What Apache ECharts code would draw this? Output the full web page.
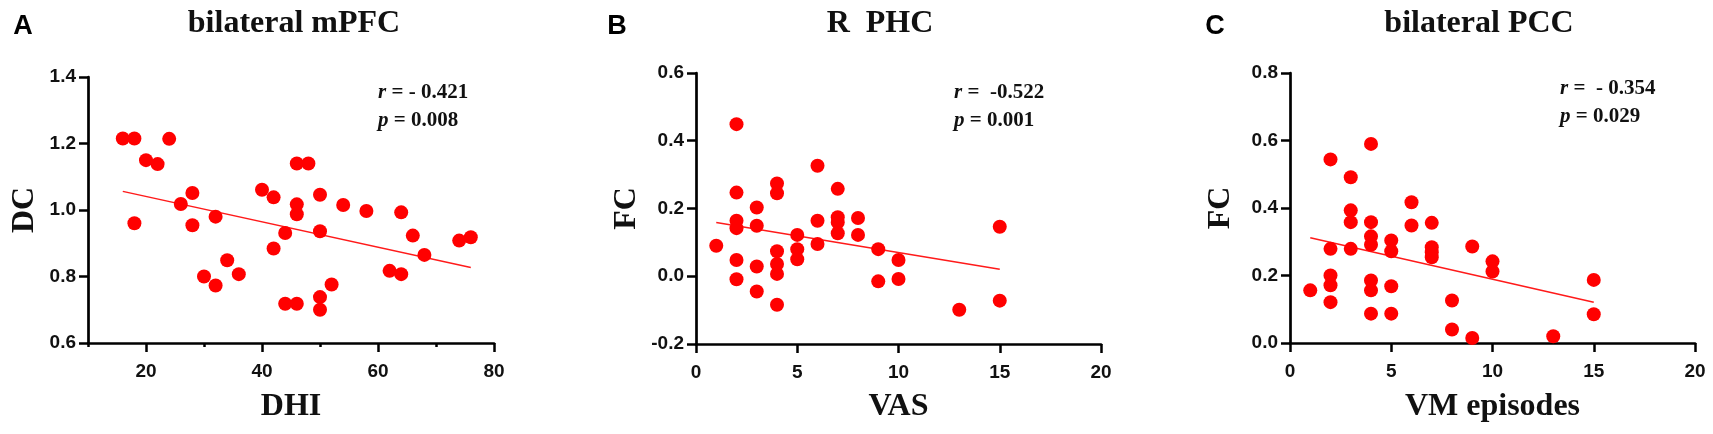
<!DOCTYPE html>
<html>
<head>
<meta charset="utf-8">
<script src="https://cdn.jsdelivr.net/npm/echarts@6/dist/echarts.min.js"></script>
<style>
  html, body { margin: 0; padding: 0; background: #fff; }
  #chart { width: 1713px; height: 434px; }
</style>
</head>
<body>
<div id="chart"></div>
<script>
// 面板 A：DHI vs DC
const dhiA = [16, 18, 20, 22, 24, 18, 26, 28, 28, 32, 30, 32, 34, 36, 40, 42, 42, 44, 44, 46,
  46, 48, 46, 46, 50, 50, 50, 50, 52, 54, 58, 64, 62, 64, 66, 68, 74, 76]
const dcA = [1.215, 1.215, 1.15, 1.138, 1.214, 0.96, 1.018, 1.051, 0.954, 0.98, 0.80, 0.773, 0.849, 0.807, 1.061, 1.038, 0.884, 0.931, 0.718, 0.718,
  1.14, 1.14, 1.017, 0.987, 1.046, 0.936, 0.738, 0.70, 0.776, 1.015, 0.997, 0.993, 0.817, 0.807, 0.923, 0.865, 0.908, 0.918]
const trendA = [[16, 1.056], [76, 0.827]]

// 面板 B：VAS vs FC
const vasB = [1, 2, 2, 2, 2, 2, 2, 3, 3, 3, 3, 4, 4, 4, 4, 4, 4, 5, 5, 5,
  6, 6, 6, 7, 7, 7, 7, 8, 8, 9, 9, 10, 10, 13, 15, 15]
const fcB = [0.09, 0.449, 0.247, 0.164, 0.142, 0.048, -0.009, 0.203, 0.149, 0.029, -0.045, 0.274, 0.245, 0.074, 0.036, 0.007, -0.084, 0.122, 0.08, 0.05,
  0.326, 0.164, 0.095, 0.258, 0.174, 0.159, 0.127, 0.172, 0.122, 0.08, -0.015, 0.048, -0.008, -0.099, 0.146, -0.072]
const trendB = [[1, 0.159], [15, 0.021]]

// 面板 C：VM episodes vs FC
const vmC = [1, 2, 2, 2, 2, 2, 3, 3, 3, 3, 4, 4, 4, 4, 4, 4, 4, 5, 5, 5,
  5, 6, 6, 7, 7, 7, 7, 8, 8, 9, 9, 10, 10, 13, 15, 15]
const fcC = [0.156, 0.544, 0.279, 0.2, 0.171, 0.121, 0.491, 0.393, 0.358, 0.279, 0.59, 0.358, 0.316, 0.291, 0.185, 0.156, 0.087, 0.304, 0.272, 0.168,
  0.087, 0.417, 0.348, 0.356, 0.284, 0.269, 0.254, 0.126, 0.04, 0.286, 0.015, 0.242, 0.212, 0.02, 0.187, 0.085]
const trendC = [[1, 0.312], [15, 0.121]]

// 轴范围 [min, max, interval]
const xRangeA = [10, 80, 10]
const xMajorA = [20, 40, 60, 80]
const yRangeA = [0.6, 1.4, 0.2]
const xRangeB = [0, 20, 5]
const yRangeB = [-0.2, 0.6, 0.2]
const xRangeC = [0, 20, 5]
const yRangeC = [0, 0.8, 0.2]

const panelTitles = ['bilateral mPFC', 'R  PHC', 'bilateral PCC']
const panelLetters = ['A', 'B', 'C']
const xNames = ['DHI', 'VAS', 'VM episodes']
const yNames = ['DC', 'FC', 'FC']
const rTexts = ['\u2011 0.421', ' \u20110.522', ' \u2011 0.354']
const pTexts = ['0.008', '0.001', '0.029']

function zip(xs, ys) {
    return xs.map((x, i) => [x, ys[i]])
}

const chart = echarts.init(document.getElementById('chart'))

const grids = [
    { left: 88, top: 77, width: 406, height: 266 },
    { left: 696, top: 73, width: 405, height: 271 },
    { left: 1290, top: 73, width: 405, height: 270 }
]
const xRanges = [xRangeA, xRangeB, xRangeC]
const yRanges = [yRangeA, yRangeB, yRangeC]
const scatterData = [zip(dhiA, dcA), zip(vasB, fcB), zip(vmC, fcC)]
const trends = [trendA, trendB, trendC]

// 每根轴都用新对象
function line() {
    return { show: true, onZero: false, lineStyle: { color: '#000', width: 2.7 } }
}
function tick(len) {
    return { show: true, length: len, lineStyle: { color: '#000', width: 2.5 } }
}
function label(margin, fmt) {
    return { margin: margin, formatter: fmt, color: '#111', fontFamily: 'Liberation Sans', fontWeight: 'bold', fontSize: 19 }
}

const xAxes = xRanges.map((t, i) => ({
    gridIndex: i,
    type: 'value',
    min: t[0], max: t[1], interval: t[2],
    axisLine: line(),
    axisTick: tick(i === 0 ? 4 : 9),
    splitLine: { show: false },
    axisLabel: label(19, v => (i === 0 && v % 20 !== 0) ? '' : String(v))
}))
// 面板 A 的长刻度（20、40、60、80）
xAxes.push({
    gridIndex: 0,
    type: 'value',
    position: 'bottom',
    min: xRangeA[0], max: xRangeA[1], interval: xRangeA[2],
    axisLine: { show: false, onZero: false },
    axisTick: { show: true, length: 9, customValues: xMajorA, lineStyle: { color: '#000', width: 2.5 } },
    axisLabel: { show: false },
    splitLine: { show: false }
})

const yAxes = yRanges.map((t, i) => ({
    gridIndex: i,
    type: 'value',
    min: t[0], max: t[1], interval: t[2],
    axisLine: line(),
    axisTick: tick(9),
    splitLine: { show: false },
    axisLabel: label(12, v => v.toFixed(1))
}))

const series = []
scatterData.forEach((d, i) => {
    series.push({
        type: 'scatter',
        xAxisIndex: i, yAxisIndex: i,
        data: d,
        symbolSize: 14,
        itemStyle: { color: '#ff0000', opacity: 1 },
        z: 3
    })
    series.push({
        type: 'line',
        xAxisIndex: i, yAxisIndex: i,
        data: trends[i],
        showSymbol: false,
        lineStyle: { color: '#ff1a1a', width: 1.5 },
        z: 2
    })
})

// 轴名（文字）
const nameFont = 'bold 32px "Liberation Serif"'
const graphics = []
grids.forEach((g, i) => {
    graphics.push({
        type: 'text',
        x: g.left + g.width / 2, y: 407,
        style: { text: xNames[i], font: nameFont, fill: '#111', align: 'center', verticalAlign: 'middle' }
    })
    graphics.push({
        type: 'text',
        x: g.left - (i === 0 ? 63 : 69), y: g.top + g.height / 2,
        rotation: Math.PI / 2,
        style: { text: yNames[i], font: nameFont, fill: '#111', align: 'center', verticalAlign: 'middle' }
    })
})

// 标题、字母、统计文本
const titleX = [289, 875, 1474]
const letterX = [18, 612, 1210]
const statX = [373, 949, 1555]
const statY = [74, 74, 70]
const titles = []
panelTitles.forEach((t, i) => {
    titles.push({
        text: t, left: titleX[i], top: 3, textAlign: 'center',
        textStyle: { fontFamily: 'Liberation Serif', fontWeight: 'bold', fontSize: 32, color: '#111' }
    })
    titles.push({
        text: panelLetters[i], left: letterX[i], top: 8, textAlign: 'center',
        textStyle: { fontFamily: 'Liberation Sans', fontWeight: 'bold', fontSize: 27, color: '#000' }
    })
    titles.push({
        text: '{i|r} = ' + rTexts[i] + '\n{i|p} = ' + pTexts[i],
        left: statX[i], top: statY[i],
        textStyle: {
            fontFamily: 'Liberation Serif', fontWeight: 'bold', fontSize: 21, color: '#111', lineHeight: 28,
            rich: { i: { fontFamily: 'Liberation Serif', fontStyle: 'italic', fontWeight: 'bold', fontSize: 21, color: '#111', lineHeight: 28 } }
        }
    })
})

const option = {
    animation: false,
    backgroundColor: '#fff',
    title: titles,
    graphic: graphics,
    grid: grids,
    xAxis: xAxes,
    yAxis: yAxes,
    series: series
}
chart.setOption(option)
window.addEventListener('resize', () => {
    chart.resize()
})
</script>
</body>
</html>
